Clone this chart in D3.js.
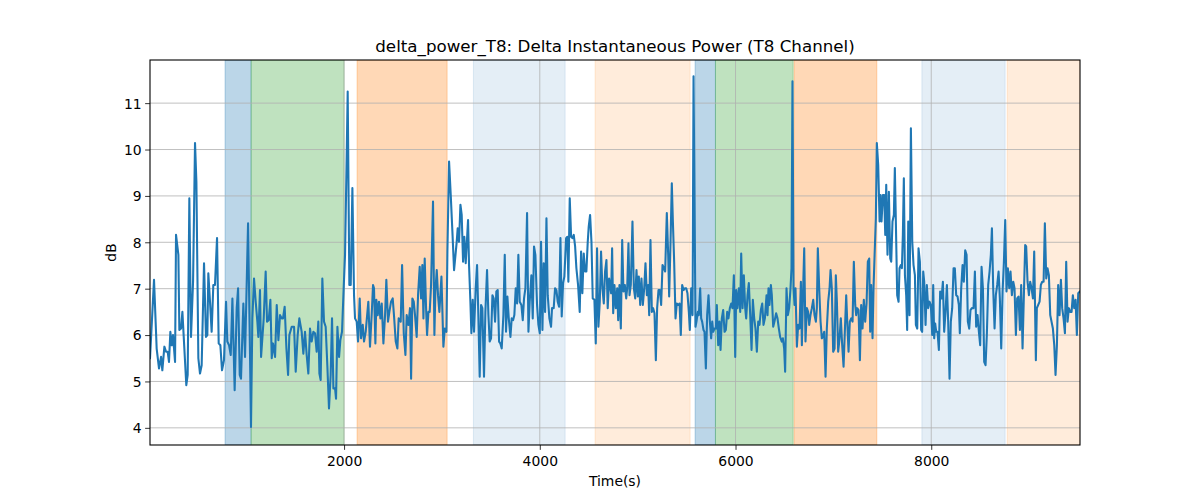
<!DOCTYPE html>
<html><head><meta charset="utf-8">
<script src="https://cdn.jsdelivr.net/npm/d3@7"></script>
<style>body{margin:0;background:#fff} svg{display:block} text{font-family:"DejaVu Sans",sans-serif;fill:#000}</style>
</head><body><div id="chart"></div>
<script>
const times = [17,58,85,109,130,143,164,181,198,211,225,239,252,273,283,307,317,334,348,368,388,402,419,436,457,477,491,511,528,545,569,589,603,613,630,647,664,681,702,719,736,753,773,794,807,825,842,859,882,903,917,934,947,971,988,1019,1039,1049,1063,1080,1097,1114,1124,1141,1152,1179,1199,1213,1230,1247,1261,1274,1295,1312,1329,1346,1363,1376,1393,1411,1428,1441,1465,1489,1506,1526,1543,
1567,1584,1601,1618,1635,1652,1669,1686,1703,1720,1737,1748,1761,1778,1795,1812,1829,1846,1863,1877,1891,1908,1918,1932,1949,1962,1979,1996,2010,2027,2037,2054,2068,2085,2102,2112,2129,2143,2160,2173,2191,2204,2221,2248,2265,2283,2296,2306,2320,2330,2344,2357,2371,2385,2402,2419,2432,2449,2463,2480,2497,2511,2528,2545,2558,2579,2593,2610,2627,2640,2657,2674,2685,2698,2712,2725,2742,2756,2773,2787,2800,2811,2824,2838,2848,2862,2875,2889,2909,2923,2933,2947,2960,2974,2995,3015,3029,3046,3056,3073,3090,3107,3124,
3151,3161,3175,3189,3202,3216,3229,3243,3257,3267,3277,3291,3301,3315,3328,3345,3359,3372,3386,3400,3413,3430,3444,3461,3475,3488,3502,3516,3529,3543,3556,3570,3584,3597,3611,3628,3642,3655,3669,3683,3700,3713,3727,3740,3754,3768,3781,3795,3812,3826,3839,3853,3870,3884,3897,3914,3928,3941,3955,3972,3986,4000,4013,4027,4040,4054,4068,4081,4098,4115,4125,4142,4156,4170,4183,4197,4211,4224,4238,4251,4269,4282,4292,4306,4320,4333,4347,4361,4374,4391,4408,4422,4435,4449,4463,4476,4490,4500,4514,4528,4541,4558,4572,4585,4599,4613,4626,4640,4654,4667,4681,4694,4708,
4729,4739,4750,4763,4777,4791,4801,4814,4828,4842,4855,4869,4883,4893,4906,4917,4930,4947,4961,4975,4988,5002,5012,5026,5039,5053,5067,5080,5094,5107,5118,5131,5145,5158,5172,5186,5199,5213,5227,5240,5254,5268,5281,5298,5312,5322,5336,5349,5360,5373,5387,5400,5414,5428,5441,5455,5469,5482,5496,5509,5523,5533,5547,5561,5571,5591,5601,5615,5625,5639,5649,5659,5673,5683,5697,5710,5724,5738,5751,5762,5772,5785,5799,5809,5823,5836,5847,5860,5874,5888,5901,5915,5928,5942,5956,5969,5983,5997,6007,6020,6034,6048,6058,6072,6085,6099,6109,6123,6136,6150,6164,6177,6191,6204,6218,6232,6245,6259,6273,6286,6300,
6317,6327,6337,6347,6361,6371,6385,6398,6415,6429,6443,6456,6473,6484,6497,6507,6521,6535,6548,6562,6572,6582,6593,6603,6613,6627,6640,6654,6668,6678,6691,6702,6715,6729,6742,6753,6766,6780,6794,6807,6821,6831,6841,6855,6869,6882,6892,6906,6920,6933,6947,6961,6971,6984,6998,7012,7025,7036,7049,7063,7076,7090,7104,7117,7131,7141,7155,7168,7182,7196,7209,7223,7233,7243,7257,7271,7284,7298,7311,7325,7339,7352,7366,7376,7386,7400,7410,7420,7434,7444,7458,7472,7482,7492,7506,7519,7530,7540,7553,7567,7581,7591,7604,7618,7628,7639,7652,7666,7676,7690,7700,7710,7720,7731,7744,7754,7765,7778,7792,7806,7819,7833,7843,7857,7870,7884,
7897,7907,7918,7928,7942,7955,7969,7982,7996,8010,8020,8030,8040,8051,8064,8078,8091,8105,8119,8132,8146,8160,8173,8187,8200,8214,8228,8241,8255,8269,8282,8292,8306,8320,8333,8347,8361,8374,8388,8401,8415,8432,8446,8459,8473,8487,8500,8514,8528,8541,8555,8568,8582,8596,8609,8620,8633,8647,8660,8674,8688,8701,8715,8729,8742,8756,8769,8783,8797,8810,8824,8838,8851,8865,8878,8892,8906,8919,8933,8947,8960,8970,8984,8998,9011,9025,9039,9052,9069,9079,9093,9107,9120,9134,9148,9161,9175,9188,9202,9216,9229,9243,9257,9270,9284,9297,9311,9325,9338,9352,9366,9379,9393,9406,9420,9434,9447,9461,9475,9488,9502,9520];

const values = [5.50,7.19,5.71,5.28,5.53,5.24,5.75,5.64,5.64,5.42,6.07,5.78,6.0,5.42,8.16,7.73,6.11,6.14,6.50,5.71,4.92,5.14,8.95,5.96,7.15,10.14,9.31,5.50,5.17,5.35,7.55,5.96,6.0,7.33,6.72,6.07,7.08,7.08,8.09,5.82,5.78,5.24,5.46,6.72,5.86,5.78,5.57,6.79,4.81,6.58,7.01,5.14,5.06,6.68,5.53,8.41,5.57,4.02,6.36,7.22,6.72,6.29,5.96,6.97,5.53,6.36,7.37,6.29,6.32,6.76,5.50,5.82,5.53,6.65,5.89,6.43,6.36,6.36,6.61,5.71,5.14,6.0,6.18,6.18,5.21,6.0,6.36,
6.07,5.60,6.07,5.57,5.17,6.14,5.86,6.07,6.04,5.64,6.29,5.17,5.03,7.22,6.29,6.18,5.35,4.42,5.14,6.36,4.85,4.85,4.63,6.18,5.53,5.89,6.07,7.01,7.73,9.88,11.25,7.08,7.08,9.17,6.86,6.36,6.29,5.86,6.79,5.93,6.22,5.86,6.07,6.72,5.75,6.47,7.08,7.01,5.82,6.76,6.43,6.72,6.36,6.68,5.82,6.43,7.19,6.29,6.50,6.72,6.79,6.40,5.86,5.71,6.36,6.29,7.51,6.04,5.57,6.43,6.22,6.58,5.06,6.79,6.72,6.43,5.96,6.86,7.47,6.79,7.51,6.36,7.65,6.58,6.0,6.50,6.50,7.08,8.88,6.0,6.94,7.40,6.86,6.50,7.26,5.75,6.14,6.07,7.80,9.74,9.02,8.23,7.40,
8.01,8.30,8.01,8.81,8.59,7.58,8.12,7.55,8.09,8.48,7.51,6.72,6.04,6.76,6.07,7.01,7.51,6.43,5.10,6.65,6.58,5.10,6.50,7.40,6.43,5.86,5.93,6.86,6.79,6.29,6.94,6.97,5.86,5.82,5.71,6.43,7.73,6.07,6.83,6.36,5.96,6.36,6.32,6.43,7.01,6.68,7.73,6.72,6.65,6.32,6.79,7.01,8.63,6.07,6.72,7.29,6.36,7.91,7.73,6.65,6.22,6.04,8.01,6.11,7.55,6.50,8.52,6.86,6.36,6.18,6.58,6.58,7.01,6.97,6.72,6.61,8.09,6.40,7.12,7.26,8.09,8.12,7.15,8.95,8.12,8.09,8.16,7.91,7.44,7.08,6.50,7.80,6.90,7.76,7.37,7.37,8.01,8.34,8.59,8.01,6.79,6.76,5.82,7.87,6.18,6.72,7.80,7.01,6.68,7.37,7.62,6.58,7.22,
6.90,7.87,6.47,7.08,6.58,7.01,6.32,7.08,6.14,8.05,6.94,7.08,6.79,7.01,7.98,6.86,7.08,8.45,7.01,6.79,7.40,6.83,7.26,6.65,7.22,6.65,7.01,7.55,6.86,7.08,6.43,8.05,6.50,6.58,6.47,5.46,6.58,6.97,6.97,6.65,7.51,7.44,7.37,8.63,7.73,6.83,8.01,9.27,8.45,7.58,6.36,6.68,6.65,6.68,6.00,7.08,6.97,7.01,7.01,6.90,6.50,6.11,7.01,6.43,11.58,6.18,6.29,6.50,6.43,7.01,6.36,6.29,6.11,6.07,5.28,6.43,6.86,6.29,5.93,6.29,6.07,6.14,6.14,6.65,5.78,6.29,5.68,6.36,6.54,6.07,6.11,6.50,6.36,6.58,6.68,6.58,7.29,5.53,6.97,6.58,7.01,6.50,7.76,6.58,7.29,6.58,6.36,6.86,7.12,6.43,5.68,6.76,6.36,6.14,5.64,6.29,6.22,6.54,6.68,6.22,6.36,
6.86,6.43,7.01,6.65,7.08,6.86,6.18,6.29,6.47,6.36,6.14,5.96,5.86,5.93,5.71,5.21,7.01,6.43,6.58,7.01,7.44,11.47,7.01,6.65,7.01,5.75,6.22,6.14,7.15,5.78,7.01,7.87,5.86,6.58,6.50,6.22,6.43,6.58,6.76,6.43,6.29,6.58,7.87,7.01,6.29,5.93,5.96,6.07,5.10,6.14,6.72,7.01,7.40,7.01,5.64,5.71,7.29,6.72,5.64,5.93,6.36,5.78,5.32,6.07,6.86,6.32,5.64,6.29,6.36,6.29,7.58,6.65,6.43,6.58,6.54,5.46,6.65,6.14,6.76,6.29,6.68,7.58,7.65,6.07,7.08,5.93,7.01,7.65,8.52,10.14,9.67,8.45,9.02,8.45,9.02,9.02,8.16,9.24,7.73,9.09,7.65,7.58,8.45,8.59,9.60,8.37,6.86,6.72,7.44,7.51,7.44,8.16,9.38,7.29,6.86,6.11,8.45,6.43,10.46,8.01,7.51,7.29,6.22,6.14,7.87,7.58,
6.11,6.07,7.37,7.15,6.22,7.08,6.58,6.72,6.65,6.00,7.08,5.93,6.25,6.07,6.07,5.68,6.94,6.79,7.15,6.07,6.50,7.08,6.29,5.06,6.29,6.58,7.44,7.44,6.86,6.83,6.65,6.04,7.01,7.51,7.15,7.83,7.73,6.29,6.14,6.54,6.58,6.58,7.37,6.18,6.43,6.07,5.78,7.47,7.01,5.42,5.35,6.00,7.08,7.37,7.73,8.30,7.01,6.14,6.86,7.08,7.37,6.79,5.71,6.94,7.55,8.48,6.94,7.44,7.01,7.37,6.86,7.15,7.01,6.00,6.79,6.83,6.11,7.08,5.71,6.90,7.94,7.91,7.15,6.86,7.15,7.01,6.79,7.80,5.46,6.58,6.65,6.72,7.08,7.15,7.15,8.41,7.22,7.44,7.29,6.43,6.29,6.14,5.78,5.14,5.78,7.08,6.43,7.19,6.58,6.36,6.04,7.58,6.29,6.58,6.50,6.50,6.86,6.58,6.76,6.00,6.90,6.94];

const spanStarts = [784, 1050, 2133, 3322, 4565, 5587, 5795, 6599, 7904, 8776];
const spanEnds   = [1050, 2000, 3053, 4259, 5536, 5795, 6589, 7444, 8755, 9520];
const spanKinds  = ["blueStrong","green","orange","blueLight","orangeLight","blueStrong","green","orange","blueLight","orangeLight"];
const xTicks = [2000, 4000, 6000, 8000];
const yTicks = [4, 5, 6, 7, 8, 9, 10, 11];
const yLimits = [3.63, 11.93];
const titleText = "delta_power_T8: Delta Instantaneous Power (T8 Channel)";
const xLabelText = "Time(s)";
const yLabelText = "dB";

const kindStyle = {
  blueStrong: {color: "#1f77b4", alpha: 0.3},
  blueLight: {color: "#1f77b4", alpha: 0.12},
  green: {color: "#2ca02c", alpha: 0.3},
  orange: {color: "#ff7f0e", alpha: 0.3},
  orangeLight: {color: "#ff7f0e", alpha: 0.15}
};

const W = 1200, H = 500;
const m = {left: 150, right: 120, top: 60, bottom: 55};
const pw = W - m.left - m.right, ph = H - m.top - m.bottom;

const n = Math.min(times.length, values.length);
const data = d3.range(n).map(i => ({t: times[i], v: values[i]}));

const x = d3.scaleLinear().domain(d3.extent(times)).range([m.left, m.left + pw]);
const y = d3.scaleLinear().domain(yLimits).range([m.top + ph, m.top]);

const svg = d3.select("#chart").append("svg").attr("width", W).attr("height", H);
svg.append("defs").append("clipPath").attr("id", "clip")
  .append("rect").attr("x", m.left).attr("y", m.top).attr("width", pw).attr("height", ph);

const spans = spanStarts.map((s, i) => ({s, e: spanEnds[i], k: spanKinds[i]}));
svg.append("g").attr("clip-path", "url(#clip)").selectAll("rect").data(spans).join("rect")
  .attr("x", d => x(d.s)).attr("width", d => x(d.e) - x(d.s))
  .attr("y", m.top).attr("height", ph)
  .attr("fill", d => kindStyle[d.k].color).attr("fill-opacity", d => kindStyle[d.k].alpha)
  .attr("stroke", d => kindStyle[d.k].color).attr("stroke-opacity", d => kindStyle[d.k].alpha)
  .attr("stroke-width", 1);

// grid
const grid = svg.append("g").attr("stroke", "#b0b0b0").attr("stroke-width", 0.8);
grid.selectAll("line.gx").data(xTicks).join("line").attr("class", "gx")
  .attr("x1", d => x(d)).attr("x2", d => x(d)).attr("y1", m.top).attr("y2", m.top + ph);
grid.selectAll("line.gy").data(yTicks).join("line").attr("class", "gy")
  .attr("x1", m.left).attr("x2", m.left + pw).attr("y1", d => y(d)).attr("y2", d => y(d));

// line
svg.append("path").datum(data).attr("clip-path", "url(#clip)")
  .attr("fill", "none").attr("stroke", "#1f77b4").attr("stroke-width", 2.08)
  .attr("stroke-linejoin", "round").attr("stroke-linecap", "square")
  .attr("d", d3.line().x(d => x(d.t)).y(d => y(d.v)));

// axes
const xAxis = svg.append("g").attr("transform", `translate(0,${m.top + ph})`)
  .call(d3.axisBottom(x).tickValues(xTicks).tickFormat(d3.format("d")).tickSizeOuter(0).tickSize(4.86).tickPadding(3.5));
const yAxis = svg.append("g").attr("transform", `translate(${m.left},0)`)
  .call(d3.axisLeft(y).tickValues(yTicks).tickFormat(d3.format("d")).tickSizeOuter(0).tickSize(4.86).tickPadding(3.5));
[xAxis, yAxis].forEach(g => {
  g.select(".domain").remove();
  g.selectAll(".tick line").attr("stroke", "#000").attr("stroke-width", 0.8);
  g.selectAll(".tick text").attr("font-size", "13.9px").attr("font-family", "DejaVu Sans").attr("fill", "#000");
});
xAxis.selectAll(".tick text").attr("dy", null).attr("y", 21);
yAxis.selectAll(".tick text").attr("dy", "0.35em");

// frame
svg.append("rect").attr("x", m.left).attr("y", m.top).attr("width", pw).attr("height", ph)
  .attr("fill", "none").attr("stroke", "#000").attr("stroke-width", 1.1);

svg.append("text").attr("x", m.left + pw / 2).attr("y", 52).attr("text-anchor", "middle")
  .attr("font-size", "16.7px").text(titleText);
svg.append("text").attr("x", m.left + pw / 2).attr("y", 486).attr("text-anchor", "middle")
  .attr("font-size", "13.9px").text(xLabelText);
svg.append("text").attr("transform", `translate(115.5,${m.top + ph / 2}) rotate(-90)`)
  .attr("text-anchor", "middle").attr("font-size", "13.9px").text(yLabelText);
</script></body></html>
